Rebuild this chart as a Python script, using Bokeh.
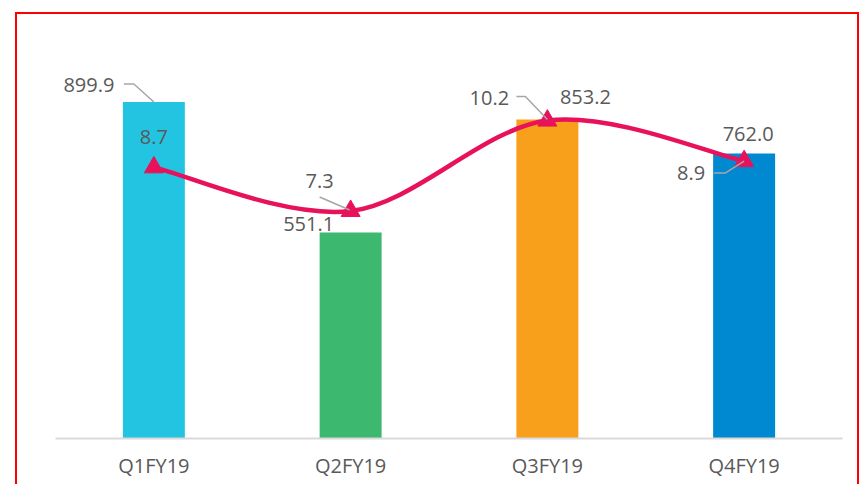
from bokeh.plotting import figure
from bokeh.models import Range1d, FixedTicker, ColumnDataSource
from bokeh.core.properties import value
from bokeh.embed import file_html
from bokeh.resources import INLINE

# ---- data ----
quarters = ["Q1FY19", "Q2FY19", "Q3FY19", "Q4FY19"]
revenue = [899.9, 551.1, 853.2, 762.0]
margin = [8.7, 7.3, 10.2, 8.9]
bar_colors = ["#23C4E2", "#3DB86F", "#F8A01C", "#0088D0"]

# ---- geometry / styles ----
FW, FH = 787, 374
Y1_MAX, Y2_MAX = 1000, 12
FONT = value("Open Sans")
TXT = "#595959"
LINE_C = "#E8125A"
LEAD_C = "#A6A6A6"
RED = "2px solid #FF0000"

xs = [i + 0.5 for i in range(len(quarters))]

p = figure(width=840, height=470, frame_width=FW, frame_height=FH,
           min_border_left=38, min_border_right=15, min_border_top=50, min_border_bottom=46,
           x_range=Range1d(0, len(quarters)), y_range=Range1d(0, Y1_MAX),
           output_backend="svg", toolbar_location=None, tools="",
           margin=(12, 0, 0, 15),
           styles={"border-top": RED, "border-left": RED, "border-right": RED})
p.extra_y_ranges = {"pct": Range1d(0, Y2_MAX)}
p.outline_line_color = None
p.grid.visible = False
p.yaxis.visible = False

ax = p.xaxis[0]
ax.ticker = FixedTicker(ticks=xs)
ax.major_label_overrides = {x: q for x, q in zip(xs, quarters)}
ax.major_tick_line_color = None
ax.minor_tick_line_color = None
ax.axis_line_color = "#D9D9D9"
ax.axis_line_width = 2
ax.major_label_text_font = "Open Sans"
ax.major_label_text_font_size = "20px"
ax.major_label_text_color = TXT
ax.major_label_standoff = 7

# bars
p.vbar(x=xs, top=revenue, width=0.315, color=bar_colors, line_color=None)

# smooth line (Catmull-Rom bezier through points)
n = len(xs)
x0, y0, x1, y1, cx0, cy0, cx1, cy1 = ([] for _ in range(8))
for i in range(n - 1):
    pa = (xs[max(i - 1, 0)], margin[max(i - 1, 0)])
    pb = (xs[i], margin[i])
    pc = (xs[i + 1], margin[i + 1])
    pd = (xs[min(i + 2, n - 1)], margin[min(i + 2, n - 1)])
    x0.append(pb[0]); y0.append(pb[1]); x1.append(pc[0]); y1.append(pc[1])
    cx0.append(pb[0] + (pc[0] - pa[0]) / 6); cy0.append(pb[1] + (pc[1] - pa[1]) / 6)
    cx1.append(pc[0] - (pd[0] - pb[0]) / 6); cy1.append(pc[1] - (pd[1] - pb[1]) / 6)
p.bezier(x0=x0, y0=y0, x1=x1, y1=y1, cx0=cx0, cy0=cy0, cx1=cx1, cy1=cy1,
         line_color=LINE_C, line_width=4.5, y_range_name="pct")
p.scatter(xs, margin, marker="triangle", size=19, fill_color=LINE_C, line_color=LINE_C,
          y_range_name="pct")

# leader lines (pixel offsets from anchors, converted to data units)
px_x = len(quarters) / FW
px_y1 = Y1_MAX / FH
px_y2 = Y2_MAX / FH

def leader(xa, ya, pts, py):
    return ([xa + dx * px_x for dx, dy in pts], [ya - dy * py for dx, dy in pts])

lx1, ly1 = [], []
a, b = leader(xs[0], revenue[0], [(-30, -18), (-20, -18), (0, 0)], px_y1)
lx1.append(a); ly1.append(b)
p.multi_line(lx1, ly1, line_color=LEAD_C, line_width=1.5)

lx2, ly2 = [], []
for i, pts in [(1, [(-31, -14), (-1, -1)]),
               (2, [(-31, -24), (-22, -24), (0, -1)]),
               (3, [(-30, 12), (-19, 12), (0, 0)])]:
    a, b = leader(xs[i], margin[i], pts, px_y2)
    lx2.append(a); ly2.append(b)
p.multi_line(lx2, ly2, line_color=LEAD_C, line_width=1.5, y_range_name="pct")

# data labels
rev_src = ColumnDataSource(dict(x=xs, y=revenue, t=[f"{v:.1f}" for v in revenue],
                                dx=[-65, -42, 38, 4], dy=[-17, -8, -22, -20]))
p.text(x="x", y="y", text="t", x_offset="dx", y_offset="dy", source=rev_src,
       text_align="center", text_baseline="middle", text_font=FONT,
       text_font_size="20px", text_color=TXT)
mar_src = ColumnDataSource(dict(x=xs, y=margin, t=[f"{v:.1f}" for v in margin],
                                dx=[0, -31, -58, -53], dy=[-30, -30, -23, 12]))
p.text(x="x", y="y", text="t", x_offset="dx", y_offset="dy", source=mar_src,
       text_align="center", text_baseline="middle", text_font=FONT,
       text_font_size="20px", text_color=TXT, y_range_name="pct")

open("out.html", "w").write(file_html(p, INLINE))
